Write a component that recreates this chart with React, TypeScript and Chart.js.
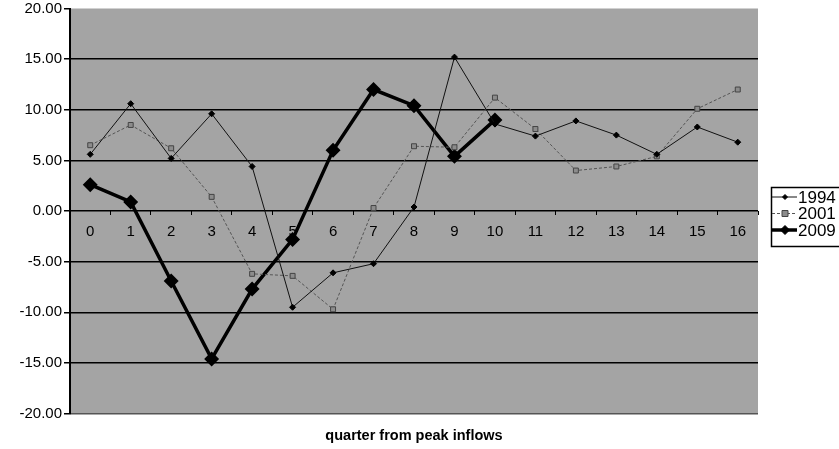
import React, { useEffect, useRef } from "react";
import { Chart, registerables } from "chart.js";

Chart.register(...registerables);

const categories = ["0", "1", "2", "3", "4", "5", "6", "7", "8", "9", "10", "11", "12", "13", "14", "15", "16"];
const series1994 = [5.6, 10.6, 5.2, 9.6, 4.4, -9.5, -6.1, -5.2, 0.4, 15.2, 8.6, 7.4, 8.9, 7.5, 5.6, 8.3, 6.8];
const series2001 = [6.5, 8.5, 6.2, 1.4, -6.2, -6.4, -9.7, 0.3, 6.4, 6.3, 11.2, 8.1, 4.0, 4.4, 5.4, 10.1, 12.0];
const series2009 = [2.6, 0.9, -6.9, -14.6, -7.7, -2.8, 6.0, 12.0, 10.4, 5.4, 9.0, null, null, null, null, null, null];
const seriesNames = ["1994", "2001", "2009"];
const yMin = -20;
const yMax = 20;
const yStep = 5;
const axisTitle = "quarter from peak inflows";

const FONT = "'Liberation Sans', Arial, sans-serif";

const bgPlugin = {
  id: "plotBg",
  beforeDraw(chart: any) {
    const { ctx, chartArea } = chart;
    ctx.save();
    ctx.fillStyle = "#a4a4a4";
    ctx.fillRect(chartArea.left, chartArea.top, chartArea.right - chartArea.left, chartArea.bottom - chartArea.top);
    ctx.restore();
  },
};

function drawMarker(ctx: CanvasRenderingContext2D, style: string, x: number, y: number, r: number, fill: string, stroke: string) {
  ctx.beginPath();
  if (style === "rectRot") {
    ctx.moveTo(x, y - r);
    ctx.lineTo(x + r, y);
    ctx.lineTo(x, y + r);
    ctx.lineTo(x - r, y);
    ctx.closePath();
  } else {
    ctx.rect(x - r, y - r, 2 * r, 2 * r);
  }
  ctx.fillStyle = fill;
  ctx.fill();
  ctx.strokeStyle = stroke;
  ctx.lineWidth = 1;
  ctx.stroke();
}

const legendPlugin = {
  id: "boxLegend",
  afterDraw(chart: any) {
    const { ctx } = chart;
    const bx = 771;
    const by = 187;
    ctx.save();
    ctx.strokeStyle = "#000";
    ctx.lineWidth = 1.5;
    ctx.strokeRect(bx + 0.5, by + 0.5, 90, 59);
    chart.data.datasets.forEach((ds: any, i: number) => {
      const y = by + 10 + i * 16.5;
      ctx.beginPath();
      ctx.setLineDash(ds.borderDash || []);
      ctx.strokeStyle = ds.borderColor;
      ctx.lineWidth = ds.borderWidth;
      ctx.moveTo(bx + 1, y);
      ctx.lineTo(bx + 26, y);
      ctx.stroke();
      ctx.setLineDash([]);
      drawMarker(ctx, ds.pointStyle, bx + 14, y, Math.max(2, ds.pointRadius - 0.5), ds.pointBackgroundColor, ds.pointBorderColor);
      ctx.fillStyle = "#000";
      ctx.font = `17px ${FONT}`;
      ctx.textBaseline = "middle";
      ctx.textAlign = "left";
      ctx.fillText(ds.label, bx + 27, y + 1);
    });
    ctx.restore();
  },
};

export default function App() {
  const canvasRef = useRef<HTMLCanvasElement | null>(null);

  useEffect(() => {
    if (!canvasRef.current) return;
    const chart = new Chart(canvasRef.current, {
      type: "line",
      data: {
        labels: categories,
        datasets: [
          {
            label: seriesNames[0],
            data: series1994,
            borderColor: "#111",
            borderWidth: 1,
            pointStyle: "rectRot",
            pointRadius: 3,
            pointBackgroundColor: "#000",
            pointBorderColor: "#000",
            tension: 0,
          },
          {
            label: seriesNames[1],
            data: series2001,
            borderColor: "#555",
            borderWidth: 1,
            borderDash: [3, 2],
            pointStyle: "rect",
            pointRadius: 3.5,
            pointBackgroundColor: "#8c8c8c",
            pointBorderColor: "#444",
            tension: 0,
          },
          {
            label: seriesNames[2],
            data: series2009,
            borderColor: "#000",
            borderWidth: 3.5,
            pointStyle: "rectRot",
            pointRadius: 5,
            pointBackgroundColor: "#000",
            pointBorderColor: "#000",
            tension: 0,
            spanGaps: false,
          },
        ],
      },
      options: {
        animation: false,
        responsive: false,
        layout: { padding: { left: 0, right: 81, top: 7, bottom: 0 } },
        plugins: {
          legend: { display: false },
          tooltip: { enabled: false },
          title: {
            display: true,
            position: "bottom",
            text: axisTitle,
            fullSize: false,
            color: "#000",
            font: { family: FONT, size: 14.5, weight: "bold" },
            padding: { top: 14, bottom: 4 },
          },
        },
        scales: {
          x: {
            type: "category",
            position: { y: 0 } as any,
            offset: true,
            grid: {
              display: true,
              drawOnChartArea: false,
              offset: true,
              tickLength: 4,
              color: "#000",
              lineWidth: 1,
            },
            border: { display: false },
            ticks: {
              color: "#000",
              padding: 8,
              maxRotation: 0,
              autoSkip: false,
              font: { family: FONT, size: 15 },
            },
          },
          y: {
            min: yMin,
            max: yMax,
            afterFit: (scale: any) => {
              scale.width = 70;
              scale.paddingTop = 0;
              scale.paddingBottom = 0;
            },
            grid: {
              color: (c: any) => (c.tick && c.tick.value === yMax ? "rgba(0,0,0,0)" : c.tick && c.tick.value === yMin ? "#555" : "#000"),
              lineWidth: 1.5,
              tickLength: 6,
              tickColor: "#000",
            },
            border: { display: true, color: "#000", width: 2 },
            ticks: {
              stepSize: yStep,
              color: "#000",
              padding: 2,
              font: { family: FONT, size: 15 },
              callback: (v: any) => Number(v).toFixed(2),
            },
          },
        },
      },
      plugins: [bgPlugin, legendPlugin],
    });
    return () => chart.destroy();
  }, []);

  return (
    <div style={{ position: "absolute", left: 0, top: 0, width: 839, height: 449, background: "#fff" }}>
      <canvas ref={canvasRef} width={839} height={449} style={{ display: "block" }} />
    </div>
  );
}
